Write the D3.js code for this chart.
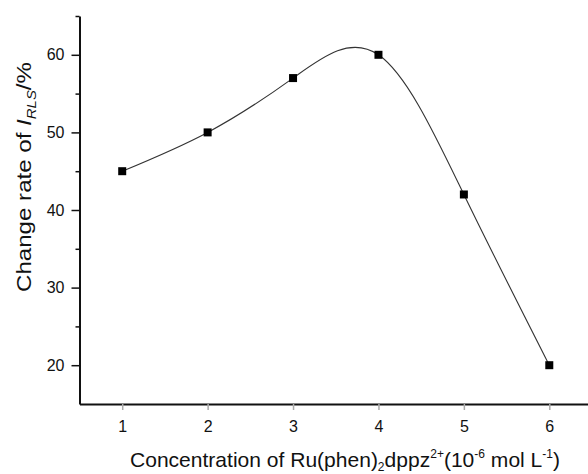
<!DOCTYPE html>
<html>
<head>
<meta charset="utf-8">
<script src="https://cdn.jsdelivr.net/npm/d3@7"></script>
<style>
  body { margin: 0; background: #fff; }
  svg { display: block; font-family: "Liberation Sans", Arial, sans-serif; }
</style>
</head>
<body>
<script>
// data
const concentration = [1, 2, 3, 4, 5, 6]
const changeRate = [45, 50, 57, 60, 42, 20]
const xTickValues = [1, 2, 3, 4, 5, 6]
const yTickValues = [20, 30, 40, 50, 60]
const yMinorTicks = [25, 35, 45, 55, 65]

const WIDTH = 588
const HEIGHT = 474
const FONT = '"Liberation Sans", Arial, sans-serif'
const svg = d3.select('body').append('svg')
  .attr('width', WIDTH)
  .attr('height', HEIGHT)

// scales: the x axis runs past the right edge like in the original
const x = d3.scaleLinear().domain([0.5, 6.5]).range([79.5, 592])
const y = d3.scaleLinear().domain([15, 65]).range([404, 16])

const points = concentration.map((c, i) => [c, changeRate[i]])

// y axis, major + minor ticks
const yAxis = svg.append('g')
  .attr('transform', `translate(${x(0.5)},0)`)
  .call(d3.axisLeft(y).tickValues(yTickValues).tickSize(8).tickPadding(7).tickSizeOuter(0))
yAxis.attr('font-size', 16).attr('font-family', FONT)
yAxis.select('.domain').attr('stroke', '#111').attr('stroke-width', 2)
yAxis.selectAll('.tick line').attr('stroke', '#111').attr('stroke-width', 1.5)
yAxis.selectAll('.tick text').attr('fill', '#111')

svg.append('g')
  .attr('transform', `translate(${x(0.5)},0)`)
  .call(d3.axisLeft(y).tickValues(yMinorTicks).tickSize(4).tickFormat('').tickSizeOuter(0))
  .call(g => g.select('.domain').remove())
  .selectAll('.tick line').attr('stroke', '#111').attr('stroke-width', 1.5)

// x axis: faint ticks below the line
const xAxis = svg.append('g')
  .attr('transform', `translate(0,${y(15)})`)
  .call(d3.axisBottom(x).tickValues(xTickValues).tickFormat(d3.format('d'))
    .tickSize(6).tickPadding(11).tickSizeOuter(0))
xAxis.attr('font-size', 16).attr('font-family', FONT)
xAxis.select('.domain').attr('stroke', '#111').attr('stroke-width', 2)
xAxis.selectAll('.tick line').attr('stroke', '#aaa').attr('stroke-width', 1.5)
xAxis.selectAll('.tick text').attr('fill', '#111')

// smooth curve through the points
const line = d3.line()
  .x(d => x(d[0]))
  .y(d => y(d[1]))
  .curve(d3.curveNatural)

svg.append('path')
  .datum(points)
  .attr('fill', 'none')
  .attr('stroke', '#333')
  .attr('stroke-width', 1.1)
  .attr('d', line)

const S = 8
svg.selectAll('rect.pt')
  .data(points)
  .enter()
  .append('rect')
  .attr('class', 'pt')
  .attr('x', d => x(d[0]) - S / 2)
  .attr('y', d => y(d[1]) - S / 2)
  .attr('width', S)
  .attr('height', S)
  .attr('fill', '#000')

// axis titles
const xTitle = svg.append('text')
  .attr('x', 345)
  .attr('y', 467)
  .attr('text-anchor', 'middle')
  .attr('font-size', 21)
  .attr('fill', '#111')
  .attr('textLength', 430)
  .attr('lengthAdjust', 'spacingAndGlyphs')
xTitle.append('tspan').text('Concentration of Ru(phen)')
xTitle.append('tspan').attr('font-size', 12).attr('dy', 4).text('2')
xTitle.append('tspan').attr('dy', -4).text('dppz')
xTitle.append('tspan').attr('font-size', 12).attr('dy', -9).text('2+')
xTitle.append('tspan').attr('dy', 9).text('(10')
xTitle.append('tspan').attr('font-size', 12).attr('dy', -9).text('-6')
xTitle.append('tspan').attr('dy', 9).text(' mol L')
xTitle.append('tspan').attr('font-size', 12).attr('dy', -9).text('-1')
xTitle.append('tspan').attr('dy', 9).text(')')

const yTitle = svg.append('text')
  .attr('transform', 'translate(31,177) rotate(-90)')
  .attr('text-anchor', 'middle')
  .attr('font-size', 21)
  .attr('fill', '#111')
  .attr('textLength', 230)
  .attr('lengthAdjust', 'spacingAndGlyphs')
yTitle.append('tspan').text('Change rate of ')
yTitle.append('tspan').attr('font-style', 'italic').text('I')
yTitle.append('tspan').attr('font-style', 'italic').attr('font-size', 13).attr('dy', 5).text('RLS')
yTitle.append('tspan').attr('dy', -5).text('/%')
</script>
</body>
</html>
